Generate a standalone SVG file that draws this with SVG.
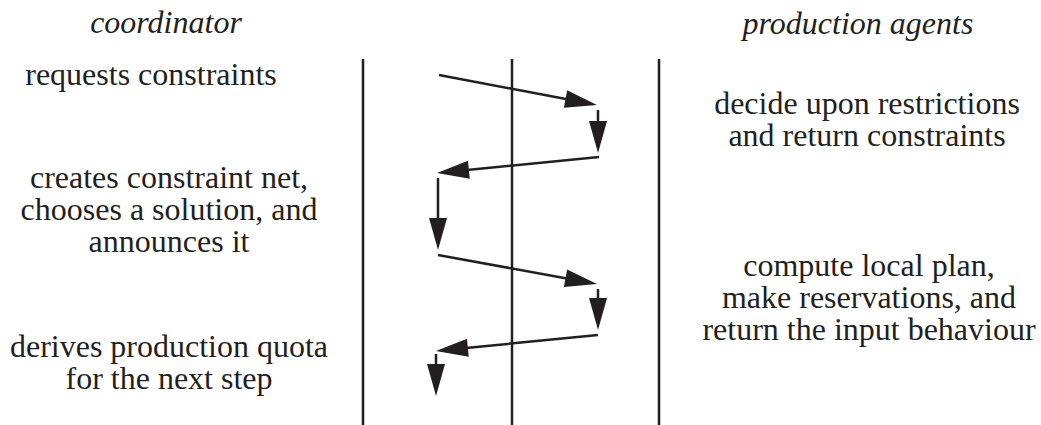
<svg xmlns="http://www.w3.org/2000/svg" width="1041" height="425" viewBox="0 0 1041 425">
<style>
text{font-family:"Liberation Serif","Times New Roman",serif;font-size:32px;fill:#231f20;text-anchor:middle}
.h{font-style:italic}
.lane{stroke:#231f20;stroke-width:2.5;fill:none}
.arr{stroke:#231f20;stroke-width:2.5;fill:none;marker-end:url(#ah)}
</style>
<defs>
<marker id="ah" markerUnits="userSpaceOnUse" markerWidth="40" markerHeight="24" viewBox="0 -12 40 24" refX="7" refY="0" orient="auto" overflow="visible">
<path d="M0,-9 L32,0 L0,9 Z" fill="#231f20"/>
</marker>
</defs>
<rect width="1041" height="425" fill="#fff"/>
<g id="lanes">
<line class="lane" x1="363" y1="59" x2="363" y2="425"/>
<line class="lane" x1="512" y1="59" x2="512" y2="425"/>
<line class="lane" x1="659" y1="59" x2="659" y2="425"/>
</g>
<g id="coordinator">
<text class="h" x="166" y="33">coordinator</text>
<text x="151" y="85">requests constraints</text>
<text x="169" y="188">creates constraint net,</text>
<text x="169" y="220">chooses a solution, and</text>
<text x="169" y="252">announces it</text>
<text x="169" y="357">derives production quota</text>
<text x="169" y="389">for the next step</text>
</g>
<g id="agents">
<text class="h" x="858" y="34">production agents</text>
<text x="867" y="114">decide upon restrictions</text>
<text x="867" y="146">and return constraints</text>
<text x="869" y="276">compute local plan,</text>
<text x="869" y="308">make reservations, and</text>
<text x="869" y="340">return the input behaviour</text>
</g>
<g id="connectors">
<line class="arr" x1="439" y1="75" x2="572.4" y2="100.3"/>
<line class="arr" x1="598" y1="110" x2="598" y2="128"/>
<line class="arr" x1="599" y1="157" x2="461.9" y2="170.5"/>
<line class="arr" x1="438" y1="178" x2="438" y2="225"/>
<line class="arr" x1="438" y1="255" x2="572.4" y2="279.5"/>
<line class="arr" x1="598" y1="289" x2="598" y2="305"/>
<line class="arr" x1="598" y1="335" x2="460.9" y2="348.5"/>
<line class="arr" x1="436" y1="354" x2="436" y2="371"/>
</g>
</svg>
